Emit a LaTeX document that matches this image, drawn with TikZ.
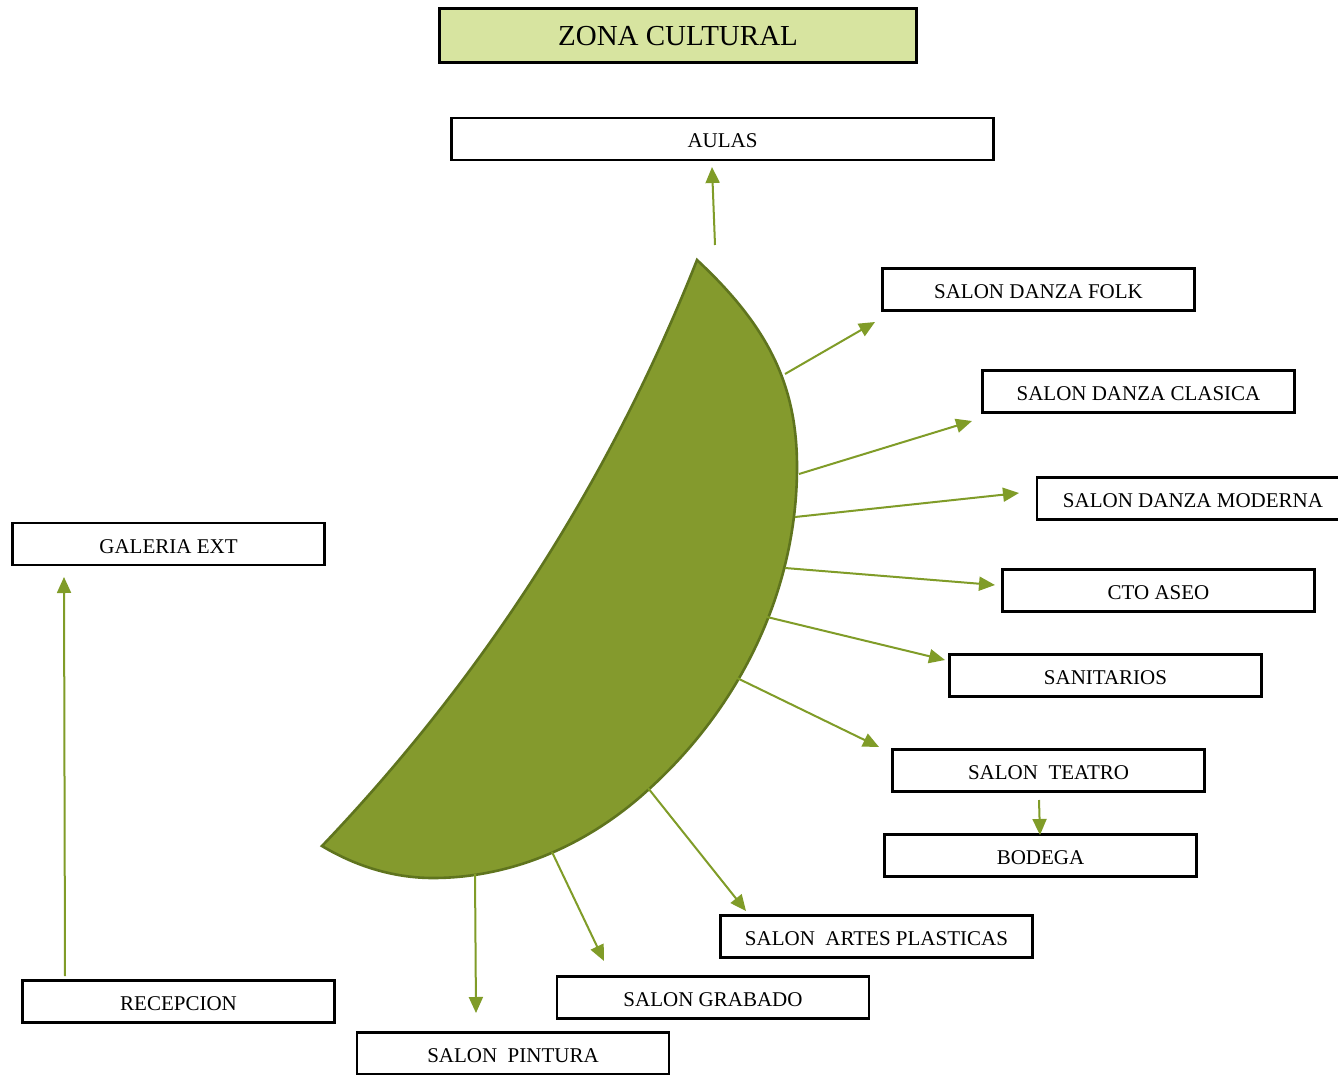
\documentclass[tikz,border=0pt]{standalone}
\usepackage{fontspec}
\setmainfont{Liberation Serif}
\usetikzlibrary{arrows.meta}
\definecolor{arrgreen}{RGB}{128,156,40}
\definecolor{shapefill}{RGB}{132,154,45}
\definecolor{shapeline}{RGB}{95,116,30}
\definecolor{titlefill}{RGB}{215,228,160}
\tikzset{
  box/.style={draw=black, line width=2.8pt, minimum width=312pt, minimum height=42pt, inner sep=0pt, text height=18pt, text depth=0pt, font=\fontsize{21}{25}\selectfont},
  arr/.style={draw=arrgreen, line width=2pt, -{Triangle[length=16pt,width=14pt]}},
}
\begin{document}
\begin{tikzpicture}[x=1pt,y=-1pt]
\clip (0,0) rectangle (1338,1075);
\fill[white] (0,0) rectangle (1338,1075);

% title and boxes
\node[box, fill=titlefill, minimum width=477pt, minimum height=54pt, text height=21pt, font=\fontsize{29}{33}\selectfont] (title) at (678,35.5) {ZONA CULTURAL};
\node[box, minimum width=542pt] (aulas) at (722.5,139) {AULAS};
\node[box] (folk) at (1038.5,289.5) {SALON DANZA FOLK};
\node[box] (clasica) at (1138.5,391.5) {SALON DANZA CLASICA};
\node[box] (moderna) at (1193,498.5) {SALON DANZA MODERNA};
\node[box] (galeria) at (168.5,544) {GALERIA EXT};
\node[box] (aseo) at (1158.5,590.5) {CTO ASEO};
\node[box] (sanit) at (1105.5,675.5) {SANITARIOS};
\node[box] (teatro) at (1048.5,770.5) {SALON\ \ TEATRO};
\node[box] (bodega) at (1040.5,855.5) {BODEGA};
\node[box] (artes) at (876.5,936.5) {SALON\ \ ARTES PLASTICAS};
\node[box] (grabado) at (713,997.5) {SALON GRABADO};
\node[box] (recep) at (178.5,1001.5) {RECEPCION};
\node[box] (pintura) at (513,1053.5) {SALON\ \ PINTURA};

% green moon-like shape
\filldraw[fill=shapefill, draw=shapeline, line width=2.6pt, line join=miter]
  (697,260) .. controls (770,328) and (797,387) .. (797,467)
  .. controls (797,591) and (740,707) .. (648,790)
  .. controls (589,844) and (513,878) .. (433,878)
  .. controls (390,878) and (352,864) .. (322,846)
  .. controls (485,675) and (610,480) .. (697,260)
  -- cycle;

% connector end points
\coordinate (sA) at (715,245);   \coordinate (eA) at (712,167);
\coordinate (sF) at (785,374);   \coordinate (eF) at (875,322);
\coordinate (sC) at (799,474);   \coordinate (eC) at (972,421);
\coordinate (sM) at (795,517);   \coordinate (eM) at (1019,493);
\coordinate (sS) at (785,568);   \coordinate (eS) at (995,585);
\coordinate (sN) at (767,617);   \coordinate (eN) at (945,660);
\coordinate (sT) at (737,678);   \coordinate (eT) at (879,747);
\coordinate (sB) at (1039,800);  \coordinate (eB) at (1040,835);
\coordinate (sP) at (648,788);   \coordinate (eP) at (746,911);
\coordinate (sG) at (552,852);   \coordinate (eG) at (604,961);
\coordinate (sI) at (475,874);   \coordinate (eI) at (476,1013);
\coordinate (sR) at (65,976);    \coordinate (eR) at (64,577);

\draw[arr] (sA) -- (eA);
\draw[arr] (sF) -- (eF);
\draw[arr] (sC) -- (eC);
\draw[arr] (sM) -- (eM);
\draw[arr] (sS) -- (eS);
\draw[arr] (sN) -- (eN);
\draw[arr] (sT) -- (eT);
\draw[arr] (sB) -- (eB);
\draw[arr] (sP) -- (eP);
\draw[arr] (sG) -- (eG);
\draw[arr] (sI) -- (eI);
\draw[arr] (sR) -- (eR);
\end{tikzpicture}
\end{document}
